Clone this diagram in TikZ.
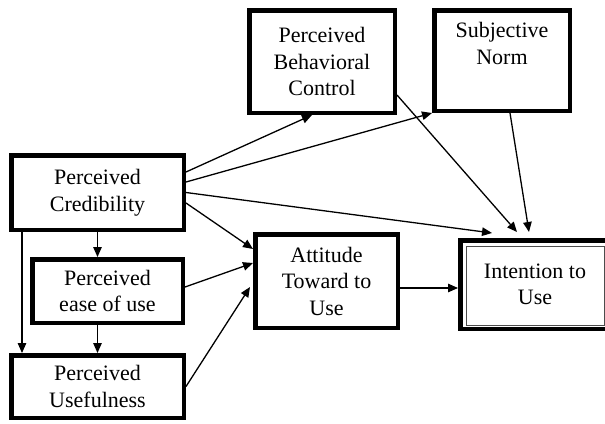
\documentclass[tikz,border=0pt]{standalone}
\usepackage{fontspec}
\setmainfont{Liberation Serif}
\usetikzlibrary{arrows.meta}

\begin{document}
\begin{tikzpicture}[x=1pt, y=-1pt,
	box_style/.style={
	    rectangle,
	    draw=black,
	    fill=white,
	    line width=4.5pt,
	    align=center,
	    inner sep=0pt,
	    font=\fontsize{22}{26.5}\selectfont
	    },
	edge_style/.style={
	    draw=black,
	    line width=1.3pt,
	    -{Triangle[length=10pt,width=8.5pt]}
	    }
	]
	\useasboundingbox (0,0) rectangle (605,423);
	% all the nodes
	\node[box_style, minimum width=172.5pt, minimum height=74.5pt] (cred) at (97.5,192.5) {Perceived\\Credibility};
	\node[box_style, minimum width=150.5pt, minimum height=63.5pt] (ease) at (107.5,291) {Perceived\\ease of use};
	\node[box_style, minimum width=172.5pt, minimum height=62.5pt] (useful) at (97.5,386.5) {Perceived\\Usefulness};
	\node[box_style, minimum width=145.5pt, minimum height=102.5pt] (pbc) at (322,61.5) {Perceived\\Behavioral\\Control};
	\node[box_style, minimum width=135.5pt, minimum height=100.5pt] (sn) at (502,60.5) {Subjective\\Norm\\\strut};
	\node[box_style, minimum width=142.5pt, minimum height=93.5pt] (att) at (326.5,281) {Attitude\\Toward to\\Use};
	\node[box_style, minimum width=149.5pt, minimum height=88.5pt] (int) at (535,284.5) {Intention to\\Use};
	\draw[line width=1pt, black!70] ([shift={(8pt,-8pt)}]int.north west) rectangle ([shift={(-8pt,6pt)}]int.south east);

	% connectors
	\draw[edge_style] (cred.south) -- (cred.south |- ease.north);
	\draw[edge_style] ([xshift=-75.5pt]cred.south) -- ([xshift=-75.5pt]useful.north);
	\draw[edge_style] ([xshift=-10pt]ease.south) -- (useful.north);
	\draw[edge_style] ([yshift=20.5pt]cred.east) -- ([xshift=-10pt]pbc.south);
	\draw[edge_style] ([yshift=10.5pt]cred.east) -- (sn.south west);
	\draw[edge_style] (cred.east) -- ([xshift=-43pt, yshift=5pt]int.north);
	\draw[edge_style] ([yshift=-10.5pt]cred.east) -- ([yshift=32pt]att.west);
	\draw[edge_style] ([yshift=4pt]ease.east) -- ([yshift=18pt]att.west);
	\draw[edge_style] (useful.east) -- ([xshift=-3pt, yshift=-6pt]att.west);
	\draw[edge_style] ([yshift=-7pt]att.east) -- ([yshift=-3.5pt]int.west);
	\draw[edge_style] ([yshift=-33.5pt]pbc.east) -- ([xshift=-18pt, yshift=6pt]int.north);
	\draw[edge_style] ([xshift=8pt]sn.south) -- ([xshift=-6pt, yshift=6pt]int.north);
\end{tikzpicture}
\end{document}
